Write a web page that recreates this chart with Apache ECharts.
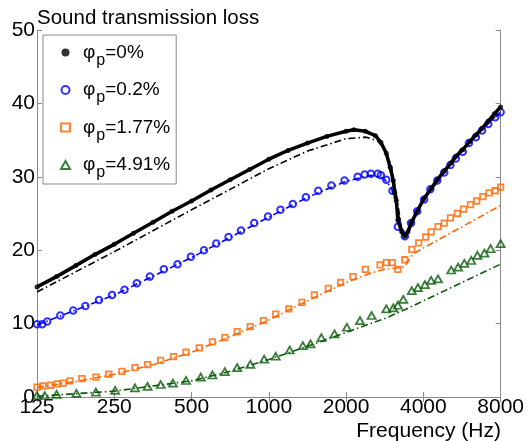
<!DOCTYPE html>
<html>
<head>
<meta charset="utf-8">
<script src="https://cdn.jsdelivr.net/npm/echarts@6/dist/echarts.min.js"></script>
<style>
  html, body { margin: 0; background: #fff; }
  #chart { width: 527px; height: 441px; }
</style>
</head>
<body>
<div id="chart"></div>
<script>
// 频率刻度 (Hz)
var freqTicks = [125, 250, 500, 1000, 2000, 4000, 8000];
var legendNames = ['φp=0%', 'φp=0.2%', 'φp=1.77%', 'φp=4.91%'];

// 测量值 φp=0%
var f0 = [125, 149, 177, 210, 250, 297, 354, 420, 500, 595, 707, 841, 1000, 1189, 1414, 1682, 2000, 2144, 2378, 2603,
  2732, 2868, 2969, 3053, 3095, 3138, 3182, 3294, 3387, 3482, 3580, 3784, 4000, 4287, 4532, 4823, 5134, 5352, 5696, 6063,
  6409, 6774, 7160, 7568, 8000];
var t0 = [15.0, 16.4, 17.9, 19.4, 20.8, 22.3, 23.8, 25.3, 26.7, 28.2, 29.6, 31.0, 32.4, 33.6, 34.6, 35.5, 36.2, 36.4, 36.2, 35.6,
  34.7, 33.2, 31.3, 29.5, 27.8, 26.8, 24.1, 22.5, 21.9, 22.5, 23.7, 25.3, 26.9, 28.4, 29.6, 30.8, 31.9, 32.8, 33.7, 34.8,
  35.7, 36.6, 37.6, 38.6, 39.5];

// 测量值 φp=0.2%
var f1 = [125, 131, 137, 154, 173, 193, 218, 245, 274, 306, 344, 390, 441, 497, 559, 624, 697, 779, 877, 993,
  1110, 1240, 1395, 1558, 1753, 1972, 2219, 2362, 2497, 2657, 2732, 2868, 3031, 3182, 3387, 3580, 3784, 4028, 4258, 4532,
  4823, 5098, 5352, 5696, 6021, 6409, 6774, 7160, 7621, 8000];
var t1 = [9.9, 9.9, 10.3, 11.1, 11.8, 12.4, 13.2, 13.9, 14.6, 15.5, 16.4, 17.4, 18.1, 19.1, 20.0, 20.9, 21.8, 22.7, 23.7, 24.6,
  25.5, 26.3, 27.2, 28.1, 28.8, 29.5, 30.0, 30.3, 30.4, 30.4, 30.2, 29.6, 28.1, 23.2, 21.9, 23.7, 25.3, 26.9, 28.3, 29.5,
  30.6, 31.6, 32.5, 33.4, 34.6, 35.4, 36.3, 37.2, 38.1, 38.8];

// 测量值 φp=1.77%
var f2 = [125, 132, 141, 150, 158, 168, 187, 212, 238, 268, 301, 337, 379, 426, 476, 536, 603, 674, 753, 847,
  953, 1064, 1197, 1347, 1505, 1705, 1905, 2128, 2378, 2713, 2868, 3031, 3182, 3387, 3605, 3837, 4084, 4287, 4563, 4823,
  5098, 5426, 5736, 6105, 6453, 6821, 7210, 7621, 8000];
var t2 = [1.35, 1.5, 1.6, 1.8, 1.9, 2.2, 2.5, 2.7, 3.1, 3.5, 4.0, 4.4, 5.0, 5.5, 6.1, 6.7, 7.5, 8.1, 8.9, 9.6,
  10.4, 11.3, 12.0, 12.9, 13.9, 14.8, 15.6, 16.4, 17.4, 18.0, 18.3, 18.3, 17.4, 18.7, 20.1, 21.0, 21.8, 22.5, 23.2, 23.7,
  24.4, 25.0, 25.6, 26.2, 26.7, 27.3, 27.8, 28.1, 28.6];

// 测量值 φp=4.91%
var f3 = [125, 134, 149, 178, 212, 252, 301, 337, 379, 423, 476, 543, 603, 674, 753, 847, 959, 1064, 1206, 1357,
  1454, 1602, 1802, 2014, 2265, 2514, 2868, 3053, 3182, 3340, 3605, 3810, 4056, 4287, 4563, 5134, 5464, 5776, 6148, 6498,
  6916, 7310, 8000];
var t3 = [0.2, 0.2, 0.35, 0.5, 0.65, 0.9, 1.25, 1.45, 1.7, 1.9, 2.25, 2.7, 3.0, 3.45, 4.0, 4.45, 5.15, 5.55, 6.4, 7.0,
  7.25, 8.1, 8.6, 9.5, 10.4, 11.1, 12.0, 12.15, 12.5, 13.3, 14.5, 14.9, 15.3, 15.9, 16.1, 17.3, 17.7, 18.2, 18.6, 19.3,
  19.6, 20.2, 20.9];

// 模型曲线 (点划线)
var fm0 = [125, 250, 500, 1000, 1414, 2000, 2400, 2650, 2830, 3000, 3140, 3290, 3400, 3530, 4000, 5000, 6000, 7000, 8000];
var tm0 = [14.3, 19.8, 25.5, 31.1, 33.5, 35.2, 35.4, 34.9, 33.8, 31.5, 27.5, 23.0, 21.8, 22.8, 26.8, 31.3, 34.6, 37.0, 38.9];
var fm1 = [125, 250, 500, 1000, 1414, 2000, 2500, 2800, 3000, 3150, 3300, 3450, 3600, 4000, 5000, 6000, 7000, 8000];
var tm1 = [9.8, 13.9, 19.0, 24.5, 27.2, 29.4, 30.2, 29.8, 28.5, 26.0, 23.0, 21.8, 23.5, 26.8, 31.3, 34.5, 36.9, 38.8];
var fm2 = [125, 177, 250, 354, 500, 707, 1000, 1414, 2000, 2500, 2830, 3200, 3390, 3500, 3650, 4000, 5657, 8000];
var tm2 = [1.3, 2.1, 3.1, 4.4, 6.1, 8.2, 10.5, 13.1, 15.6, 16.9, 17.4, 17.6, 17.8, 18.6, 19.5, 20.3, 23.2, 26.1];
var fm3 = [125, 250, 500, 707, 1000, 1414, 2000, 2830, 3390, 4000, 5657, 8000];
var tm3 = [0.1, 0.8, 2.2, 3.5, 5.1, 6.9, 8.8, 10.7, 11.9, 13.1, 15.6, 18.1];

var font = 'Liberation Sans, Arial, sans-serif';
var axisColor = '#8a8a8a';
var colors = ['#000000', '#0000ff', '#ff6600', '#0b5c0b'];

function pairs(f, t) {
  return f.map(function (x, i) { return [x, t[i]]; });
}

function modelLine(f, t, color) {
  return {
    type: 'line',
    data: pairs(f, t),
    showSymbol: false,
    silent: true,
    z: 1,
    lineStyle: { color: color, width: 1.6, type: [7, 3, 1.5, 3] }
  };
}

function xAx(top) {
  return {
    type: 'log',
    logBase: 2,
    min: 125,
    max: 8000,
    position: top ? 'top' : 'bottom',
    axisLine: { lineStyle: { color: axisColor, width: 1 } },
    axisTick: { inside: true, length: 5, customValues: freqTicks, lineStyle: { color: axisColor } },
    axisLabel: {
      show: !top, customValues: freqTicks, fontSize: 21, color: '#000', margin: 0, fontFamily: font,
      formatter: function (v) { return String(Math.round(v)); }
    },
    splitLine: { show: false },
    minorTick: { show: false }
  };
}

function yAx(right) {
  return {
    type: 'value',
    min: 0,
    max: 50,
    interval: 10,
    position: right ? 'right' : 'left',
    axisLine: { show: true, lineStyle: { color: axisColor, width: 1 } },
    axisTick: { show: true, inside: true, length: 5, lineStyle: { color: axisColor } },
    axisLabel: { show: !right, fontSize: 21, color: '#000', margin: 2, fontFamily: font },
    splitLine: { show: false }
  };
}

var chart = echarts.init(document.getElementById('chart'));

var option = {
  animation: false,
  backgroundColor: '#fff',
  title: [
    { text: 'Sound transmission loss', left: 37, top: 8, padding: 0,
      textStyle: { fontSize: 20.5, fontWeight: 'normal', color: '#000', fontFamily: font } },
    { text: 'Frequency (Hz)', right: 26, top: 421, padding: 0,
      textStyle: { fontSize: 21, fontWeight: 'normal', color: '#000', fontFamily: font } }
  ],
  grid: { left: 37, right: 24, top: 30, bottom: 44 },
  legend: {
    data: legendNames,
    orient: 'vertical',
    left: 43,
    top: 35,
    padding: [8, 6, 3, 17],
    itemGap: 12,
    itemWidth: 9,
    itemHeight: 8,
    backgroundColor: '#fff',
    borderColor: axisColor,
    borderWidth: 1,
    formatter: function (name) {
      return '{f|φ}{s|p}{a|=' + name.split('=')[1] + '}';
    },
    textStyle: {
      color: '#000',
      fontFamily: font,
      rich: {
        f: { fontSize: 19, fontFamily: font, color: '#000', padding: [0, 0, 0, 8] },
        a: { fontSize: 19, fontFamily: font, color: '#000' },
        s: { fontSize: 16, fontFamily: font, color: '#000', padding: [16, 0, 0, 1] }
      }
    }
  },
  xAxis: [xAx(false), xAx(true)],
  yAxis: [yAx(false), yAx(true)],
  series: [
    modelLine(fm3, tm3, colors[3]),
    modelLine(fm2, tm2, colors[2]),
    modelLine(fm1, tm1, colors[1]),
    modelLine(fm0, tm0, colors[0]),
    {
      name: legendNames[3], type: 'scatter', data: pairs(f3, t3), z: 3,
      symbol: 'triangle', symbolSize: [8, 7],
      itemStyle: { color: 'rgba(255,255,255,0)', borderColor: colors[3], borderWidth: 1.8 }
    },
    {
      name: legendNames[2], type: 'scatter', data: pairs(f2, t2), z: 3,
      symbol: 'rect', symbolSize: 5.5,
      itemStyle: { color: 'rgba(255,255,255,0)', borderColor: colors[2], borderWidth: 1.8 }
    },
    {
      name: legendNames[1], type: 'scatter', data: pairs(f1, t1), z: 3,
      symbol: 'circle', symbolSize: 6.5,
      itemStyle: { color: 'rgba(255,255,255,0)', borderColor: colors[1], borderWidth: 2 }
    },
    {
      type: 'line', data: pairs(f0, t0), z: 4, showSymbol: false, silent: true,
      lineStyle: { color: colors[0], width: 3.5 }
    },
    {
      name: legendNames[0], type: 'scatter', data: pairs(f0, t0), z: 4,
      symbol: 'circle', symbolSize: 5,
      itemStyle: { color: colors[0] }
    }
  ]
};

chart.setOption(option);
</script>
</body>
</html>
